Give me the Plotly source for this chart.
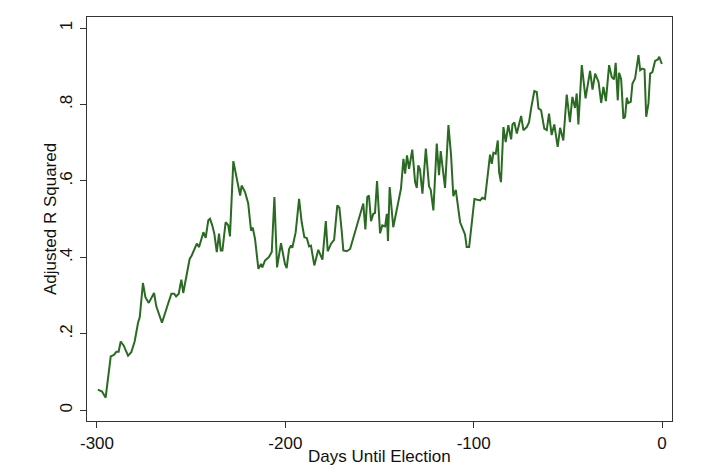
import plotly.graph_objects as go

days = [-299.5, -297.3, -295.4, -292.7, -291.0, -289.7, -288.5, -287.4, -285.8, -283.5,
        -281.8, -280.0, -278.2, -277.3, -275.6, -274.3, -272.5, -269.7, -268.5, -265.5,
        -262.3, -260.5, -259.0, -258.0, -256.6, -255.2, -254.2, -252.4, -250.8, -249.7,
        -247.0, -245.8, -243.5, -242.3, -240.9, -240.0, -238.8, -237.7, -236.4, -235.2,
        -234.3, -233.4, -231.7, -230.3, -229.4, -227.6, -225.8, -224.0, -223.2, -221.4,
        -219.7, -218.2, -217.3, -216.1, -214.3, -212.9, -212.2, -210.8, -208.7, -207.2,
        -205.8, -204.4, -202.3, -200.2, -199.3, -198.0, -197.0, -196.3, -194.5, -192.7,
        -191.3, -189.9, -188.6, -187.4, -186.4, -184.6, -182.5, -181.0, -180.3, -178.5,
        -177.5, -175.7, -174.1, -172.4, -171.3, -170.1, -169.2, -167.4, -165.6, -158.6,
        -157.5, -156.5, -155.6, -154.5, -153.3, -152.4, -151.3, -149.7, -148.5, -147.0,
        -146.1, -145.5, -144.6, -142.7, -140.3, -138.6, -137.3, -136.4, -135.4, -134.3,
        -132.6, -131.1, -130.2, -129.4, -128.5, -127.2, -125.4, -123.7, -122.8, -121.4,
        -119.6, -118.4, -117.5, -115.2, -113.4, -112.0, -110.8, -109.5, -107.2, -104.6,
        -103.7, -102.4, -99.6, -97.8, -96.6, -95.4, -94.0, -91.3, -90.4, -89.5,
        -88.3, -87.2, -86.5, -85.5, -84.2, -83.0, -81.6, -80.1, -79.4, -78.4,
        -77.1, -74.8, -73.6, -71.8, -70.6, -69.5, -67.8, -66.5, -65.6, -64.2,
        -62.5, -61.2, -60.0, -58.6, -57.2, -55.4, -54.1, -52.4, -50.6, -48.9,
        -47.6, -46.2, -45.3, -44.4, -42.6, -40.6, -38.2, -36.9, -35.5, -33.7,
        -32.3, -31.1, -29.8, -28.1, -26.7, -25.5, -24.6, -23.5, -22.8, -21.7,
        -20.5, -19.6, -18.7, -17.9, -16.6, -15.7, -14.3, -12.5, -11.6, -10.4,
        -9.3, -8.4, -7.2, -6.3, -5.1, -3.7, -2.2, -1.5, -0.1]

adj_r2 = [0.054, 0.049, 0.033, 0.141, 0.145, 0.153, 0.153, 0.180, 0.169, 0.143,
          0.152, 0.180, 0.229, 0.243, 0.333, 0.296, 0.281, 0.307, 0.272, 0.229,
          0.278, 0.305, 0.305, 0.298, 0.305, 0.342, 0.307, 0.357, 0.396, 0.405,
          0.436, 0.427, 0.466, 0.451, 0.497, 0.501, 0.484, 0.462, 0.414, 0.462,
          0.418, 0.418, 0.492, 0.484, 0.455, 0.652, 0.602, 0.562, 0.588, 0.571,
          0.541, 0.470, 0.478, 0.449, 0.370, 0.383, 0.374, 0.392, 0.401, 0.414,
          0.558, 0.374, 0.437, 0.383, 0.372, 0.422, 0.431, 0.425, 0.466, 0.553,
          0.492, 0.453, 0.451, 0.429, 0.431, 0.379, 0.420, 0.399, 0.394, 0.495,
          0.416, 0.436, 0.446, 0.536, 0.530, 0.471, 0.418, 0.416, 0.422, 0.541,
          0.473, 0.558, 0.562, 0.495, 0.514, 0.516, 0.600, 0.463, 0.484, 0.481,
          0.514, 0.443, 0.584, 0.479, 0.540, 0.580, 0.658, 0.619, 0.667, 0.632,
          0.682, 0.597, 0.582, 0.641, 0.630, 0.567, 0.685, 0.586, 0.577, 0.523,
          0.698, 0.615, 0.678, 0.582, 0.746, 0.667, 0.560, 0.577, 0.492, 0.460,
          0.427, 0.427, 0.553, 0.551, 0.549, 0.556, 0.553, 0.669, 0.645, 0.674,
          0.671, 0.706, 0.623, 0.597, 0.741, 0.702, 0.746, 0.709, 0.748, 0.753,
          0.724, 0.770, 0.733, 0.741, 0.754, 0.790, 0.835, 0.833, 0.790, 0.785,
          0.737, 0.733, 0.776, 0.720, 0.748, 0.689, 0.739, 0.706, 0.826, 0.754,
          0.820, 0.791, 0.829, 0.748, 0.903, 0.816, 0.888, 0.839, 0.881, 0.859,
          0.804, 0.846, 0.809, 0.903, 0.872, 0.866, 0.909, 0.811, 0.883, 0.866,
          0.763, 0.768, 0.818, 0.804, 0.807, 0.855, 0.868, 0.929, 0.890, 0.894,
          0.892, 0.768, 0.803, 0.881, 0.885, 0.914, 0.918, 0.925, 0.906]

x_ticks = [-300, -200, -100, 0]
x_tick_labels = ["-300", "-200", "-100", "0"]
y_ticks = [0, 0.2, 0.4, 0.6, 0.8, 1.0]
y_tick_labels = ["0", ".2", ".4", ".6", ".8", "1"]
x_title = "Days Until Election"
y_title = "Adjusted R Squared"

fig = go.Figure()
fig.add_trace(go.Scatter(x=days, y=adj_r2, mode="lines",
                         line=dict(color="#2a6a22", width=2), showlegend=False))

font = dict(family="Liberation Sans, Arial, sans-serif", size=17, color="#111111")

fig.update_layout(
    width=713, height=465,
    margin=dict(l=87, r=41, t=17, b=44),
    paper_bgcolor="white", plot_bgcolor="white",
    font=font,
    xaxis=dict(range=[-305.3, 5.3], tickvals=x_ticks, ticktext=x_tick_labels,
               ticks="outside", ticklen=6, tickwidth=1, tickcolor="#333333",
               ticklabelstandoff=1, automargin=False,
               showline=True, linecolor="#333333", linewidth=1, mirror=True,
               showgrid=False, zeroline=False),
    yaxis=dict(range=[-0.028, 1.029], tickvals=y_ticks, ticktext=y_tick_labels,
               tickangle=-90,
               ticks="outside", ticklen=6, tickwidth=1, tickcolor="#333333",
               ticklabelstandoff=1, automargin=False,
               showline=True, linecolor="#333333", linewidth=1, mirror=True,
               showgrid=False, zeroline=False),
    annotations=[
        dict(text=y_title, xref="paper", yref="paper", x=0, y=0.5,
             xanchor="center", yanchor="middle", xshift=-37,
             textangle=-90, showarrow=False, font=font),
        dict(text=x_title, xref="paper", yref="paper", x=0.5, y=0,
             xanchor="center", yanchor="middle", yshift=-35,
             showarrow=False, font=font),
    ],
)

fig.write_html("out.html", config={"displayModeBar": False},
               post_script="document.body.style.margin='0';")
